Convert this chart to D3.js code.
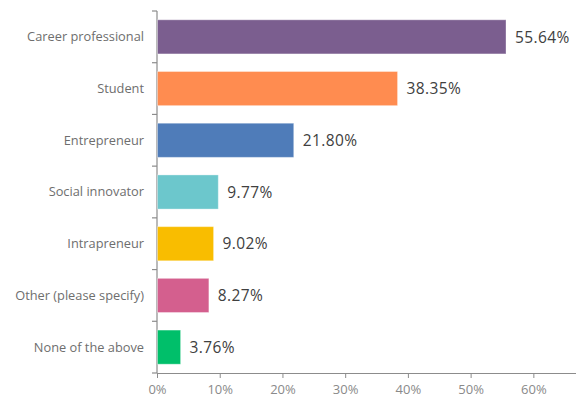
<!DOCTYPE html>
<html>
<head>
<meta charset="utf-8">
<script src="https://cdn.jsdelivr.net/npm/d3@7"></script>
<style>
  html, body { margin: 0; padding: 0; background: #fff; }
  svg { display: block; }
</style>
</head>
<body>
<svg id="chart" width="576" height="400"></svg>
<script>
// Survey responses, share of respondents (%)
const categories = [
  "Career professional",
  "Student",
  "Entrepreneur",
  "Social innovator",
  "Intrapreneur",
  "Other (please specify)",
  "None of the above"
];
const values = [55.64, 38.35, 21.80, 9.77, 9.02, 8.27, 3.76];
const colors = ["#7b5e8f", "#ff8c50", "#4f7cb9", "#6cc7cc", "#f9bd00", "#d45f8e", "#00bf6a"];
const xTicks = [0, 10, 20, 30, 40, 50, 60];

(function () {
  const svg = d3.select("#chart");
  const plotLeft = 157, plotRight = 576, plotTop = 11, plotBottom = 373;

  const x = d3.scaleLinear().domain([0, 66.8]).range([plotLeft, plotRight]);
  const y = d3.scaleBand().domain(categories).range([plotTop, plotBottom])
    .paddingInner(0.34).paddingOuter(0.17);

  const font = "'Open Sans', 'DejaVu Sans', sans-serif";
  const axisColor = "#8c8c8c";

  // X axis
  const xAxis = svg.append("g")
    .attr("transform", `translate(0,${plotBottom})`)
    .call(d3.axisBottom(x).tickValues(xTicks).tickFormat(d => d + "%").tickSize(5).tickSizeOuter(0));
  xAxis.select(".domain").attr("stroke", axisColor).attr("stroke-width", 1.2);
  xAxis.selectAll(".tick line").attr("stroke", axisColor);
  xAxis.selectAll(".tick text")
    .attr("fill", "#8a8a8a").attr("font-size", 13).attr("font-family", font)
    .attr("y", 9).attr("dy", "0.95em");

  // Y axis with ticks at band boundaries
  const yAxisG = svg.append("g");
  yAxisG.append("line")
    .attr("x1", plotLeft).attr("x2", plotLeft).attr("y1", plotTop).attr("y2", plotBottom)
    .attr("stroke", axisColor).attr("stroke-width", 1.2);
  const boundaries = d3.range(categories.length + 1)
    .map(i => plotTop + i * (plotBottom - plotTop) / categories.length);
  yAxisG.selectAll("line.btick").data(boundaries).enter().append("line")
    .attr("class", "btick")
    .attr("x1", plotLeft - 5).attr("x2", plotLeft)
    .attr("y1", d => d).attr("y2", d => d)
    .attr("stroke", axisColor).attr("stroke-width", 1.2);

  // Category labels
  svg.selectAll("text.cat").data(categories).enter().append("text")
    .attr("class", "cat")
    .attr("x", 144)
    .attr("y", d => y(d) + y.bandwidth() / 2)
    .attr("dy", "0.35em")
    .attr("text-anchor", "end")
    .attr("font-family", font).attr("font-size", 12.8)
    .attr("fill", "#6e6e6e")
    .text(d => d);

  // Bars
  svg.selectAll("rect.bar").data(values).enter().append("rect")
    .attr("class", "bar")
    .attr("x", x(0) + 0.5)
    .attr("y", (d, i) => y(categories[i]))
    .attr("width", d => x(d) - x(0) - 0.5)
    .attr("height", y.bandwidth())
    .attr("fill", (d, i) => colors[i])
    .attr("stroke", "rgba(255,255,255,0.35)")
    .attr("stroke-width", 1);

  // Value labels
  svg.selectAll("text.val").data(values).enter().append("text")
    .attr("class", "val")
    .attr("x", d => x(d) + 9)
    .attr("y", (d, i) => y(categories[i]) + y.bandwidth() / 2)
    .attr("dy", "0.37em")
    .attr("font-family", font).attr("font-size", 15.5)
    .attr("letter-spacing", 0.4)
    .attr("fill", "#404040")
    .text(d => d.toFixed(2) + "%");
})();
</script>
</body>
</html>
